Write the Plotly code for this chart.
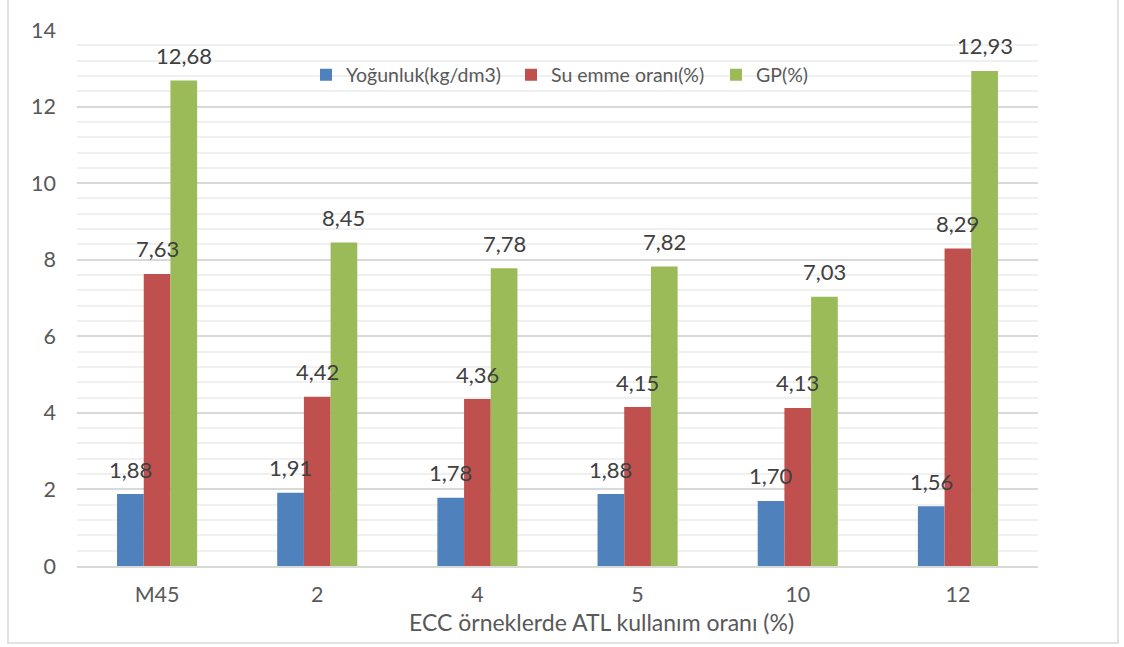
import plotly.graph_objects as go

categories = ["M45", "2", "4", "5", "10", "12"]
yogunluk = [1.88, 1.91, 1.78, 1.88, 1.70, 1.56]
su_emme = [7.63, 4.42, 4.36, 4.15, 4.13, 8.29]
gp = [12.68, 8.45, 7.78, 7.82, 7.03, 12.93]

series = [
    ("Yoğunluk(kg/dm3)", yogunluk, "#4F81BD"),
    ("Su emme oranı(%)", su_emme, "#C0504D"),
    ("GP(%)", gp, "#9BBB59"),
]

x_title = "ECC örneklerde ATL kullanım oranı (%)"

FONT = "Lato, 'Open Sans', sans-serif"

W, H = 1124, 647
L, R, T, B = 77, 86, 30, 81
pw, ph = W - L - R, H - T - B
bar_px = pw / len(categories) / 2 / 3  # bar width in pixels (bargap 0.5, 3 bars)

def px_x(x):
    return (x - L) / pw

def px_y(y):
    return (H - B - y) / ph

fig = go.Figure()
annotations = []
for i, (name, vals, color) in enumerate(series):
    fig.add_trace(go.Bar(
        x=categories, y=vals, name=name,
        marker=dict(color=color, line=dict(width=0)),
    ))
    # value labels above each bar (x given as category index)
    for j, v in enumerate(vals):
        annotations.append(dict(
            x=j, y=v, xref="x", yref="y",
            text=f"{v:.2f}".replace(".", ","),
            showarrow=False, xanchor="center", yanchor="middle",
            xshift=(i - 1) * bar_px, yshift=25,
            font=dict(size=22, color="#404040", family=FONT),
        ))

# axis title placed close under the tick labels
annotations.append(dict(
    x=px_x(601), y=px_y(622), xref="paper", yref="paper",
    text=x_title, showarrow=False, xanchor="center", yanchor="middle",
    font=dict(size=23, color="#595959", family=FONT),
))

fig.update_layout(
    width=W, height=H,
    margin=dict(l=L, r=R, t=T, b=B),
    paper_bgcolor="white", plot_bgcolor="white",
    barmode="group", bargap=0.5, bargroupgap=0,
    font=dict(family=FONT, size=22, color="#595959"),
    showlegend=True,
    legend=dict(
        orientation="h", x=px_x(306), y=px_y(75),
        xanchor="left", yanchor="middle",
        font=dict(size=19.5, color="#595959"),
        bgcolor="rgba(0,0,0,0)",
        entrywidth=160, entrywidthmode="pixels",
        itemsizing="constant",
    ),
    xaxis=dict(
        type="category", range=[-0.5, len(categories) - 0.5],
        showgrid=False, showline=True, linecolor="#D9D9D9", linewidth=1.5,
        ticks="", tickfont=dict(size=21.5, color="#595959"),
        ticklabelstandoff=8,
    ),
    yaxis=dict(
        range=[0, 14], dtick=2, showgrid=True, gridcolor="#D9D9D9", gridwidth=1.5,
        zeroline=False, ticks="", ticklen=0,
        tickfont=dict(size=21.5, color="#595959"),
        ticklabelstandoff=20,
        minor=dict(dtick=0.4, showgrid=True, gridcolor="#F0F0F0", gridwidth=1.5),
    ),
    annotations=annotations,
    shapes=[dict(
        type="rect", xref="paper", yref="paper", layer="below",
        x0=px_x(8), x1=px_x(1118), y0=px_y(643), y1=px_y(-5),
        line=dict(color="#D9D9D9", width=1.5), fillcolor="rgba(0,0,0,0)",
    )],
)

fig.write_html("out.html")
